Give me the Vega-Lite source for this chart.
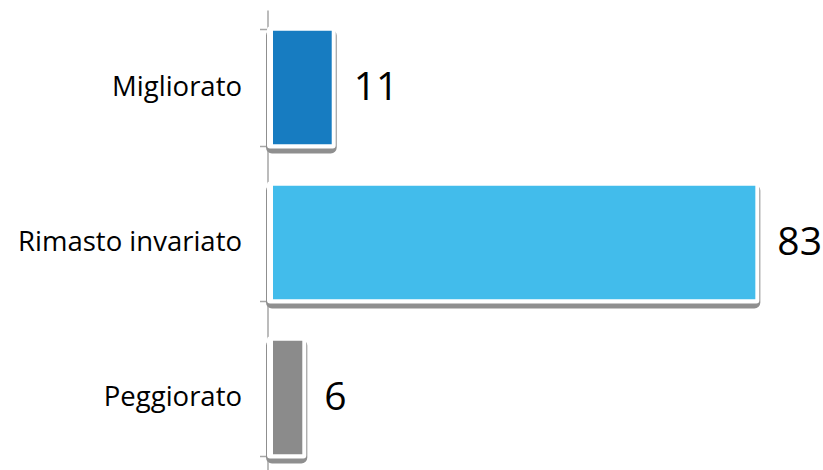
{
  "$schema": "https://vega.github.io/schema/vega-lite/v6.json",
  "autosize": "none",
  "width": 556,
  "height": 465,
  "padding": {"left": 269, "top": 10, "right": 0, "bottom": 0},
  "background": "white",
  "config": {"view": {"stroke": null}, "font": "Open Sans"},
  "data": {"values": [
    {"cat": "Migliorato", "v": 11, "color": "#177CC1"},
    {"cat": "Rimasto invariato", "v": 83, "color": "#42BCEB"},
    {"cat": "Peggiorato", "v": 6, "color": "#8B8B8B"}
  ]},
  "encoding": {
    "y": {"field": "cat", "type": "nominal", "sort": null,
      "scale": {"paddingInner": 0.24, "paddingOuter": 0.12},
      "axis": {"title": null, "offset": 1.5, "domainColor": "#A6A6A6", "domainWidth": 1.5,
        "tickColor": "#A6A6A6", "tickWidth": 1.5, "tickSize": 8, "tickBand": "extent",
        "labelFontSize": 27.5, "labelColor": "#000000", "labelPadding": 18, "labelLimit": 400, "labelFont": "Open Sans"}},
    "x": {"field": "v", "type": "quantitative", "scale": {"domain": [0, 94.5], "nice": false}, "axis": null}
  },
  "layer": [
    {"mark": {"type": "bar", "color": "#8f8f8f", "stroke": "#8f8f8f", "strokeWidth": 6, "opacity": 0.35, "xOffset": 9, "x2Offset": 1, "yOffset": 4, "cornerRadius": 3}},
    {"mark": {"type": "bar", "stroke": "white", "strokeWidth": 4, "cornerRadius": 1, "xOffset": 2},
      "encoding": {"color": {"field": "color", "type": "nominal", "scale": null}}},
    {"mark": {"type": "text", "align": "left", "baseline": "middle", "dx": 20, "fontSize": 39, "font": "Open Sans", "color": "#000000"},
      "encoding": {"text": {"field": "v", "type": "quantitative"}}}
  ]
}
